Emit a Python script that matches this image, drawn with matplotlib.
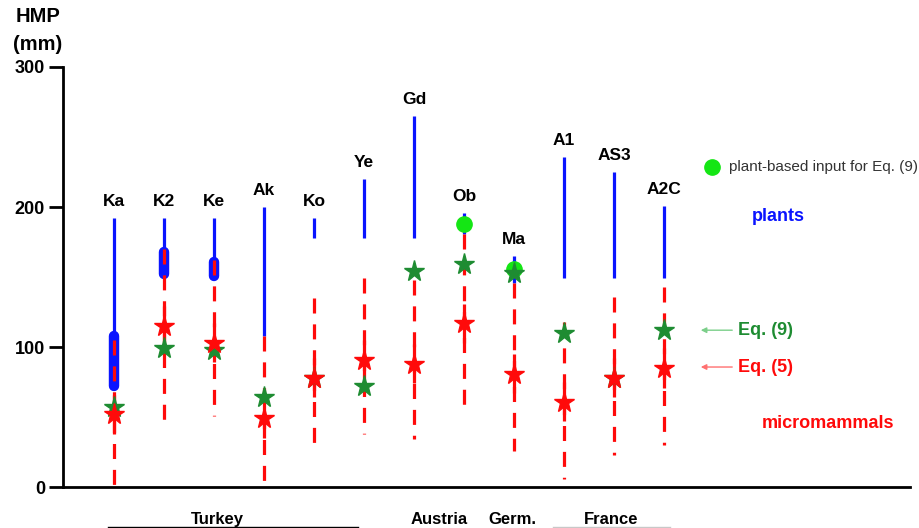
import numpy as np
import matplotlib
matplotlib.use("Agg")
import matplotlib.pyplot as plt

plt.rcParams['font.family'] = ['Liberation Sans', 'DejaVu Sans']

sites = ['Ka', 'K2', 'Ke', 'Ak', 'Ko', 'Ye', 'Gd', 'Ob', 'Ma', 'A1', 'AS3', 'A2C']
plant_top = [192, 192, 192, 200, 192, 220, 265, 196, 165, 236, 225, 201]
plant_bot = [72, 152, 151, 108, 178, 178, 178, 181, 146, 149, 149, 149]
core_top = [108, 168, 161, np.nan, np.nan, np.nan, np.nan, np.nan, np.nan, np.nan, np.nan, np.nan]
core_bot = [72, 152, 151, np.nan, np.nan, np.nan, np.nan, np.nan, np.nan, np.nan, np.nan, np.nan]
mm_top = [105, 170, 162, 108, 135, 149, 148, 181, 146, 118, 136, 143]
mm_bot = [-3, 48, 51, -3, 24, 38, 34, 53, 26, 6, 23, 30]
eq5 = [52, 115, 103, 49, 78, 91, 88, 117, 81, 61, 78, 85]
eq9 = [57, 99, 98, 64, 78, 72, 154, 159, 153, 110, 78, 112]
plant_input = [np.nan, np.nan, np.nan, np.nan, np.nan, np.nan, np.nan, 188, 156, np.nan, np.nan, np.nan]
countries = ['Turkey', 'Austria', 'Germ.', 'France']
country_pos = [2.06, 6.5, 7.97, 9.94]
yticks = [0, 100, 200, 300]

BLUE = '#0a14ff'
RED = '#ff0a0a'
GREEN = '#1e8c32'
LIME = '#14e614'

fig = plt.figure(figsize=(9.2, 5.28), dpi=100)
ax = fig.add_axes([63/920, 41/528, 847/920, 420/528])
ax.set_xlim(-1.02, 15.92)
ax.set_ylim(0, 300)

x = np.arange(len(sites))
for i in x:
    ax.plot([i, i], [plant_top[i], plant_bot[i]], color=BLUE, lw=2.3,
            solid_capstyle='butt', zorder=2, clip_on=False)
    if not np.isnan(core_top[i]):
        ax.plot([i, i], [core_top[i], core_bot[i]], color=BLUE, lw=7.5,
                solid_capstyle='round', zorder=2, clip_on=False)
    ax.plot([i, i], [mm_top[i], mm_bot[i]], color=RED, lw=2.3,
            linestyle=(0, (4.7, 3.4)), dash_capstyle='butt', zorder=3, clip_on=False)
    # solid segment through each Eq. (5) estimate
    ax.plot([i, i], [eq5[i] + 14, eq5[i] - 14], color=RED, lw=2.3,
            solid_capstyle='butt', zorder=3, clip_on=False)
    ax.annotate(sites[i], xy=(i, plant_top[i]), xytext=(0, 6.5), textcoords='offset points',
                ha='center', va='bottom', fontsize=12.5, fontweight='bold', color='black',
                annotation_clip=False)

ax.plot(x, eq9, linestyle='none', marker='*', ms=15.5, color=GREEN, mec=GREEN, zorder=4, clip_on=False)
ax.plot(x, eq5, linestyle='none', marker='*', ms=15.5, color=RED, mec=RED, zorder=5, clip_on=False)
ax.plot(x, plant_input, linestyle='none', marker='o', ms=11, color=LIME, mec=LIME, zorder=3, clip_on=False)

# annotations / legend
ax.plot([11.96], [228.6], linestyle='none', marker='o', ms=11, color=LIME, mec=LIME, clip_on=False)
ax.text(12.3, 228.6, 'plant-based input for Eq. (9)', fontsize=11, color='#333333',
        ha='left', va='center')
ax.text(13.28, 193, 'plants', fontsize=13, fontweight='bold', color=BLUE, ha='center', va='center')
ax.text(12.48, 112, 'Eq. (9)', fontsize=13, fontweight='bold', color=GREEN, ha='left', va='center')
ax.text(12.48, 85.7, 'Eq. (5)', fontsize=13, fontweight='bold', color=RED, ha='left', va='center')
ax.text(12.96, 45.7, 'micromammals', fontsize=13, fontweight='bold', color=RED, ha='left', va='center')
ax.annotate('', xy=(11.68, 112), xytext=(12.42, 112),
            arrowprops=dict(arrowstyle='-|>', color='#7ccf8a', lw=1.0, mutation_scale=8))
ax.annotate('', xy=(11.68, 85.7), xytext=(12.42, 85.7),
            arrowprops=dict(arrowstyle='-|>', color='#ff7070', lw=1.0, mutation_scale=8))

# countries
for name, pos in zip(countries, country_pos):
    ax.text(pos, -23, name, fontsize=12, fontweight='bold', ha='center', va='center', clip_on=False)
ax.plot([-0.12, 4.88], [-28.6, -28.6], color='black', lw=1.0, clip_on=False)
ax.plot([8.78, 11.12], [-28.6, -28.6], color='#c8c8c8', lw=1.0, clip_on=False)

# axes styling
for s in ['top', 'right']:
    ax.spines[s].set_visible(False)
ax.spines['left'].set_linewidth(2.0)
ax.spines['bottom'].set_linewidth(2.0)
ax.spines['left'].set_bounds(0, 300)
ax.set_xticks([])
ax.set_yticks(yticks)
ax.set_yticklabels([str(v) for v in yticks], fontsize=13, fontweight='bold')
ax.tick_params(axis='y', length=10, width=2.0, pad=3)

fig.text(38/920, 1 - 17/528, 'HMP', fontsize=14.5, fontweight='bold', ha='center', va='center')
fig.text(38/920, 1 - 45/528, '(mm)', fontsize=14.5, fontweight='bold', ha='center', va='center')

fig.savefig('out.png', dpi=100)
